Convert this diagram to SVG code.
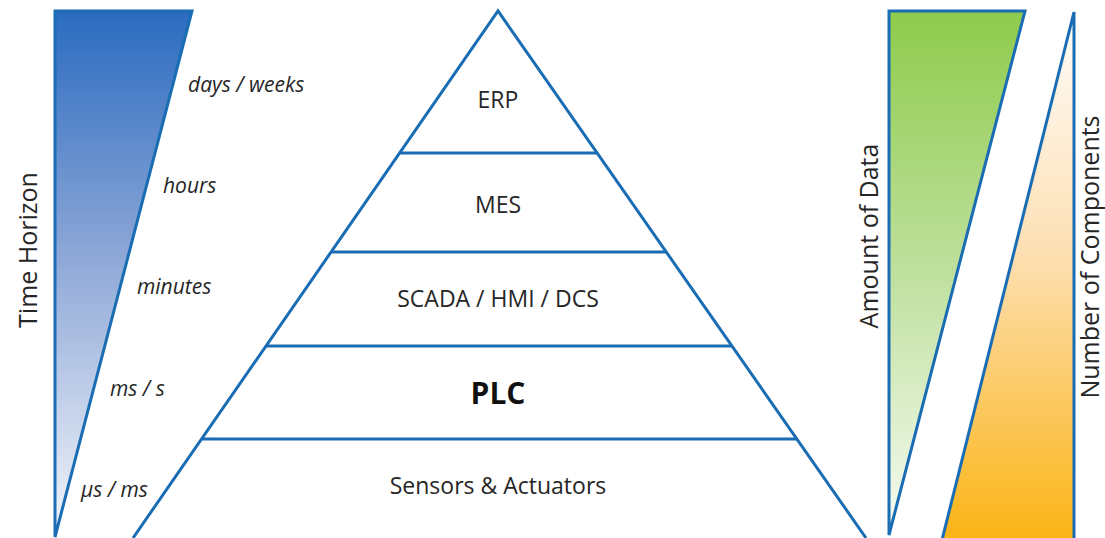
<svg xmlns="http://www.w3.org/2000/svg" width="1105" height="538" viewBox="0 0 1105 538">
  <style>
    .edge { stroke: #1b6db3; stroke-width: 3; stroke-linejoin: miter; }
    .open { fill: none; }
    .lvl { font-family: "Open Sans", "Liberation Sans", sans-serif; font-size: 23px; fill: #262626; text-anchor: middle; }
    .tick { font-family: "Open Sans", "Liberation Sans", sans-serif; font-size: 21px; font-style: italic; fill: #262626; }
    .axis { font-family: "Open Sans", "Liberation Sans", sans-serif; font-size: 25px; fill: #262626; text-anchor: middle; }
  </style>
  <defs>
    <linearGradient id="gBlue" x1="0" y1="0" x2="0" y2="1">
      <stop offset="0" stop-color="#2a6bc0"/>
      <stop offset="0.45" stop-color="#8aa5d6"/>
      <stop offset="1" stop-color="#f4f6fb"/>
    </linearGradient>
    <linearGradient id="gGreen" x1="0" y1="0" x2="0" y2="1">
      <stop offset="0" stop-color="#8ecb4b"/>
      <stop offset="0.5" stop-color="#bfe09e"/>
      <stop offset="1" stop-color="#f7fbf3"/>
    </linearGradient>
    <linearGradient id="gOrange" x1="0" y1="0" x2="0" y2="1">
      <stop offset="0" stop-color="#fffdfb"/>
      <stop offset="0.45" stop-color="#fde0b4"/>
      <stop offset="1" stop-color="#fbb415"/>
    </linearGradient>
  </defs>
  <rect width="1105" height="538" fill="#ffffff"/>

  <!-- time horizon wedge -->
  <g id="time-horizon">
    <polygon class="edge" points="55,11 192,11 55,537" fill="url(#gBlue)"/>
    <text class="axis" transform="translate(37,250) rotate(-90)">Time Horizon</text>
    <text class="tick" x="188" y="92">days / weeks</text>
    <text class="tick" x="163" y="193">hours</text>
    <text class="tick" x="137" y="294">minutes</text>
    <text class="tick" x="110" y="396">ms / s</text>
    <text class="tick" x="81" y="497">µs / ms</text>
  </g>

  <!-- automation pyramid -->
  <g id="pyramid">
    <polyline class="edge open" points="133,538 498,11 866,538"/>
  </g>
  <g id="connectors">
    <line class="edge" x1="400" y1="153" x2="597" y2="153"/>
    <line class="edge" x1="332" y1="252" x2="666" y2="252"/>
    <line class="edge" x1="266" y1="346" x2="732" y2="346"/>
    <line class="edge" x1="202" y1="439" x2="797" y2="439"/>
  </g>
  <g id="erp"><text class="lvl" x="498" y="108">ERP</text></g>
  <g id="mes"><text class="lvl" x="498" y="213">MES</text></g>
  <g id="scada"><text class="lvl" x="498" y="307">SCADA / HMI / DCS</text></g>
  <g id="plc"><text class="lvl" x="498" y="404" style="font-size:30px;font-weight:bold;fill:#111">PLC</text></g>
  <g id="sensors"><text class="lvl" x="498" y="494">Sensors &amp; Actuators</text></g>

  <!-- data volume wedge -->
  <g id="amount-of-data">
    <polygon class="edge" points="889,11 1025,11 889,535" fill="url(#gGreen)"/>
    <text class="axis" transform="translate(878,236) rotate(-90)">Amount of Data</text>
  </g>

  <!-- component count wedge -->
  <g id="number-of-components">
    <polygon class="edge" points="1074,12 1074,540 942,540" fill="url(#gOrange)"/>
    <text class="axis" transform="translate(1099,257) rotate(-90)">Number of Components</text>
  </g>
</svg>
